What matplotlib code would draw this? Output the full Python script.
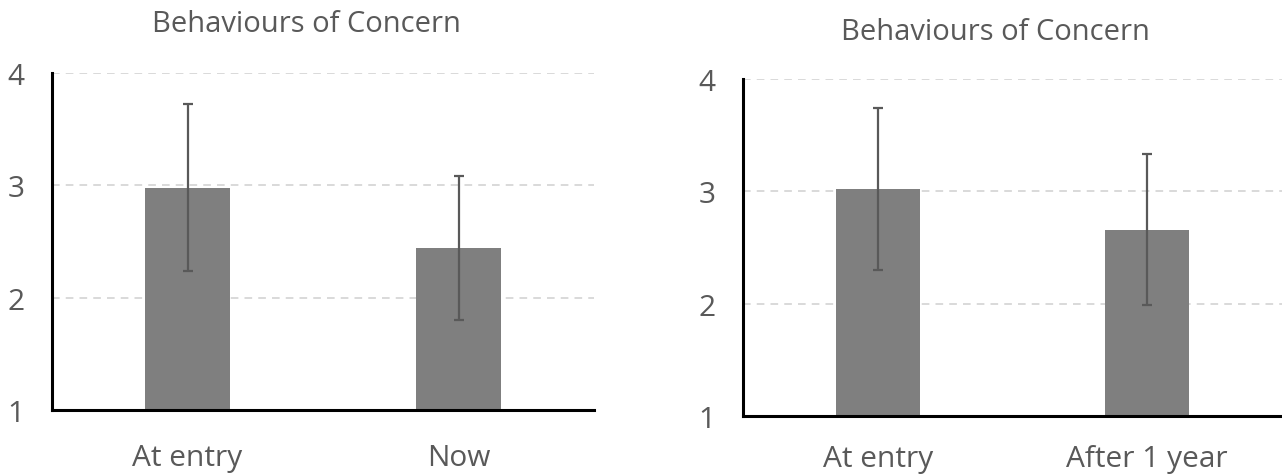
import numpy as np
import matplotlib.pyplot as plt

plt.rcParams['font.family'] = ['Open Sans', 'DejaVu Sans']

title = 'Behaviours of Concern'
left_labels = ['At entry', 'Now']
left_means = [2.98, 2.44]
left_err = [0.74, 0.64]
right_labels = ['At entry', 'After 1 year']
right_means = [3.02, 2.66]
right_err = [0.72, 0.67]
yticks = [1, 2, 3, 4]

W, H = 1282, 477
fig = plt.figure(figsize=(W/100, H/100), dpi=100)

txt = '#595959'
bar_col = '#7f7f7f'

def draw(ax, labels, means, errs, xpad):
    x = np.arange(len(labels))
    ax.bar(x, np.array(means) - 1, bottom=1, width=0.31, color=bar_col, zorder=2)
    ax.errorbar(x, means, yerr=errs, fmt='none', ecolor='#595959', elinewidth=1.6,
                capsize=3.5, capthick=1.6, zorder=3)
    ax.set_ylim(1, 4)
    ax.set_xlim(-0.5, 1.5)
    ax.set_yticks(yticks)
    ax.set_xticks(x)
    ax.set_xticklabels(labels)
    for s in ['top', 'right']:
        ax.spines[s].set_visible(False)
    for s in ['left', 'bottom']:
        ax.spines[s].set_linewidth(2.2)
        ax.spines[s].set_color('black')
    ax.tick_params(axis='both', length=0, labelsize=21.5, labelcolor=txt)
    ax.tick_params(axis='y', pad=20)
    ax.tick_params(axis='x', pad=xpad)
    for v in yticks[1:]:
        ax.axhline(v, color='#d0d0d0', lw=1.1, ls=(0, (5, 4)), zorder=1)

ax1 = fig.add_axes([52/W, 1-411/H, (594-52)/W, (411-74)/H])
draw(ax1, left_labels, left_means, left_err, 24)
ax2 = fig.add_axes([743/W, 1-417/H, (W-743)/W, (417-80)/H])
draw(ax2, right_labels, right_means, right_err, 20)

fig.text(306/W, 1-25/H, title, ha='center', va='center', fontsize=21, color=txt)
fig.text(995/W, 1-33/H, title, ha='center', va='center', fontsize=21, color=txt)

fig.savefig('out.png', dpi=100)
